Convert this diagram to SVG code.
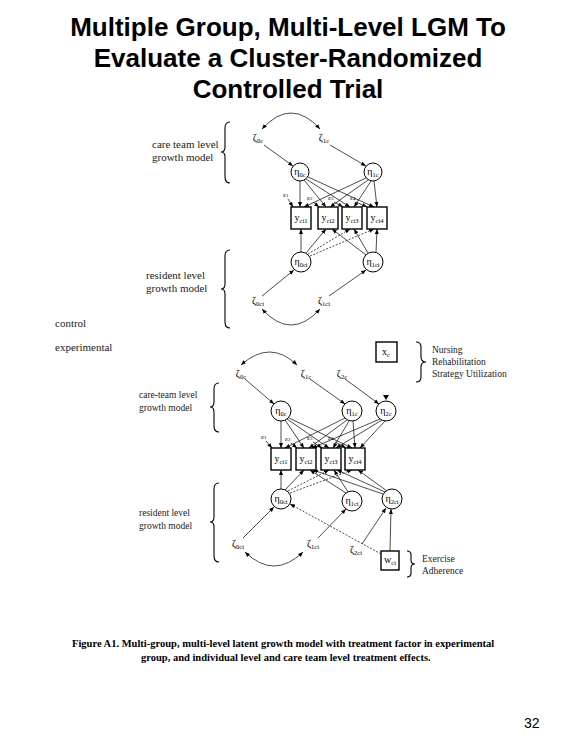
<svg xmlns="http://www.w3.org/2000/svg" width="576" height="756" viewBox="0 0 576 756">
<style>
.title{font-family:"Liberation Sans",Arial,sans-serif;font-weight:bold;font-size:26px;text-anchor:middle;fill:#000}
.lab{font-family:"Liberation Serif","Times New Roman",serif;font-size:9.5px;fill:#222}
.labt{font-family:"Liberation Serif","Times New Roman",serif;font-size:11px;fill:#222}
.nl{font-family:"Liberation Serif","Times New Roman",serif;font-size:10px;fill:#000;text-anchor:middle}
.sub{font-size:6.5px}
.eps{font-family:"Liberation Serif","Times New Roman",serif;font-size:7px;fill:#000}
.cap{font-family:"Liberation Serif","Times New Roman",serif;font-weight:bold;font-size:10.5px;fill:#000}
.node{fill:#fff;stroke:#000;stroke-width:1}
.box{fill:#fff;stroke:#000;stroke-width:1.4}
.brace{fill:none;stroke:#000;stroke-width:1.1}
.c line,.c path{stroke:#000;stroke-width:0.7;fill:none;marker-end:url(#ah)}
.c .d{stroke-dasharray:2 1.5}
.c .both{marker-start:url(#ah)}
.pg{font-family:"Liberation Sans",Arial,sans-serif;font-size:14px;fill:#000}
</style>
<defs>
<marker id="ah" viewBox="0 0 10 10" refX="10" refY="5" markerUnits="userSpaceOnUse" markerWidth="5" markerHeight="5" orient="auto-start-reverse">
<path d="M0,1 L10,5 L0,9 z" fill="#000"/>
</marker>
</defs>
<rect width="576" height="756" fill="#fff"/>
<g id="title">
<text class="title" x="288" y="36">Multiple Group, Multi-Level LGM To</text>
<text class="title" x="288" y="67">Evaluate a Cluster-Randomized</text>
<text class="title" x="288" y="98">Controlled Trial</text>
</g>

<!-- connectors -->
<g id="connectors" class="c">
<!-- control: care team -->
<path class="both" d="M262,129 Q291,97 320,129"/>
<line x1="264" y1="145" x2="293" y2="166"/>
<line x1="330" y1="145" x2="366" y2="166"/>
<line x1="300" y1="181" x2="300" y2="207"/>
<line x1="304" y1="180" x2="326" y2="207"/>
<line x1="306" y1="179" x2="350" y2="207"/>
<line x1="308" y1="177" x2="374" y2="207"/>
<line x1="366" y1="178" x2="304" y2="207"/>
<line x1="368" y1="180" x2="330" y2="207"/>
<line x1="371" y1="181" x2="354" y2="207"/>
<line x1="374" y1="181" x2="377" y2="207"/>
<line x1="288" y1="199" x2="293" y2="207"/>
<line x1="313" y1="202" x2="319" y2="207"/>
<line x1="334" y1="202" x2="343" y2="207"/>
<line x1="356" y1="202" x2="367" y2="207"/>
<!-- control: resident -->
<line x1="301" y1="252" x2="301" y2="229"/>
<line x1="306" y1="253" x2="326" y2="229"/>
<line class="d" x1="308" y1="254" x2="350" y2="229"/>
<line class="d" x1="310" y1="256" x2="374" y2="229"/>
<line x1="366" y1="255" x2="332" y2="229"/>
<line x1="368" y1="253" x2="354" y2="229"/>
<line x1="376" y1="252" x2="377" y2="229"/>
<line x1="262" y1="296" x2="294" y2="270"/>
<line x1="329" y1="296" x2="366" y2="270"/>
<path class="both" d="M262,309 Q291,341 320,309"/>
<!-- experimental: care team -->
<path class="both" d="M241,365 Q270,339 297,365"/>
<line x1="245" y1="379" x2="274" y2="404"/>
<line x1="310" y1="379" x2="345" y2="404"/>
<line x1="345" y1="379" x2="379" y2="404"/>
<line x1="281" y1="421" x2="281" y2="448"/>
<line x1="285" y1="420" x2="304" y2="448"/>
<line x1="287" y1="419" x2="329" y2="448"/>
<line x1="289" y1="418" x2="352" y2="448"/>
<line x1="345" y1="418" x2="285" y2="448"/>
<line x1="347" y1="420" x2="309" y2="448"/>
<line x1="349" y1="421" x2="333" y2="448"/>
<line x1="353" y1="421" x2="355" y2="448"/>
<line x1="380" y1="419" x2="312" y2="448"/>
<line x1="382" y1="420" x2="336" y2="448"/>
<line x1="385" y1="421" x2="360" y2="448"/>
<line x1="266" y1="441" x2="272" y2="448"/>
<line x1="291" y1="443" x2="297" y2="448"/>
<line x1="313" y1="442" x2="322" y2="448"/>
<line x1="335" y1="442" x2="346" y2="448"/>
<!-- experimental: resident -->
<line x1="281" y1="489" x2="281" y2="470"/>
<line x1="285" y1="490" x2="304" y2="470"/>
<line class="d" x1="288" y1="491" x2="329" y2="470"/>
<line class="d" x1="290" y1="493" x2="352" y2="470"/>
<line x1="346" y1="493" x2="310" y2="470"/>
<line x1="348" y1="492" x2="334" y2="470"/>
<line x1="383" y1="494" x2="313" y2="470"/>
<line x1="385" y1="492" x2="337" y2="470"/>
<line x1="387" y1="491" x2="358" y2="470"/>
<line x1="243" y1="538" x2="274" y2="507"/>
<line x1="318" y1="538" x2="346" y2="509"/>
<line x1="362" y1="544" x2="386" y2="508"/>
<line x1="390" y1="551" x2="391" y2="509"/>
<line class="d" x1="381" y1="554" x2="290" y2="504"/>
<path class="both" d="M245,552 Q274,580 303,552"/>
</g>
<polygon points="383,395 389,395 386,400" fill="#000"/>

<!-- braces and side labels -->
<g id="side-labels">
<path class="brace" d="M230,122 Q225,122 225,128 L225,147 Q225,152 221,152 Q225,152 225,157 L225,177 Q225,183 230,183"/>
<path class="brace" d="M230,250 Q225,250 225,256 L225,284 Q225,289 221,289 Q225,289 225,294 L225,322 Q225,328 230,328"/>
<path class="brace" d="M219,383 Q214,383 214,389 L214,402 Q214,407 210,407 Q214,407 214,412 L214,426 Q214,432 219,432"/>
<path class="brace" d="M219,483 Q214,483 214,489 L214,517 Q214,522 210,522 Q214,522 214,527 L214,556 Q214,562 219,562"/>
<path class="brace" d="M416,342 Q421,342 421,347 L421,357 Q421,362 426,362 Q421,362 421,367 L421,377 Q421,382 416,382"/>
<path class="brace" d="M407,551 Q411,551 411,555 L411,560 Q411,564 415,564 Q411,564 411,568 L411,573 Q411,577 407,577"/>
<text class="labt" x="152" y="148">care team level</text>
<text class="labt" x="152" y="161">growth model</text>
<text class="labt" x="146" y="279">resident level</text>
<text class="labt" x="146" y="292">growth model</text>
<text class="labt" x="55" y="327">control</text>
<text class="labt" x="55" y="351">experimental</text>
<text class="lab" x="139" y="398">care-team level</text>
<text class="lab" x="139" y="411">growth model</text>
<text class="lab" x="139" y="516">resident level</text>
<text class="lab" x="139" y="529">growth model</text>
<text class="lab" x="432" y="353">Nursing</text>
<text class="lab" x="432" y="365">Rehabilitation</text>
<text class="lab" x="432" y="377">Strategy Utilization</text>
<text class="lab" x="422" y="562">Exercise</text>
<text class="lab" x="422" y="574">Adherence</text>
</g>

<!-- control nodes -->
<g id="c-zeta0c"><text class="nl" x="258" y="141">ζ<tspan class="sub" dy="2">0c</tspan></text></g>
<g id="c-zeta1c"><text class="nl" x="324" y="141">ζ<tspan class="sub" dy="2">1c</tspan></text></g>
<g id="c-eta0c"><circle class="node" cx="300" cy="172" r="9"/><text class="nl" x="300" y="175">η<tspan class="sub" dy="1.5">0c</tspan></text></g>
<g id="c-eta1c"><circle class="node" cx="373" cy="172" r="9"/><text class="nl" x="373" y="175">η<tspan class="sub" dy="1.5">1c</tspan></text></g>
<g id="c-eps"><text class="eps" x="283" y="197">ε<tspan font-size="5">1</tspan></text><text class="eps" x="307" y="200">ε<tspan font-size="5">2</tspan></text><text class="eps" x="328" y="200">ε<tspan font-size="5">3</tspan></text><text class="eps" x="350" y="200">ε<tspan font-size="5">4</tspan></text></g>
<g id="c-y1"><rect class="box" x="291" y="207" width="20" height="22"/><text class="nl" x="301" y="221">y<tspan class="sub" dy="1.5">ci1</tspan></text></g>
<g id="c-y2"><rect class="box" x="318" y="207" width="20" height="22"/><text class="nl" x="328" y="221">y<tspan class="sub" dy="1.5">ci2</tspan></text></g>
<g id="c-y3"><rect class="box" x="342" y="207" width="20" height="22"/><text class="nl" x="352" y="221">y<tspan class="sub" dy="1.5">ci3</tspan></text></g>
<g id="c-y4"><rect class="box" x="367" y="207" width="20" height="22"/><text class="nl" x="377" y="221">y<tspan class="sub" dy="1.5">ci4</tspan></text></g>
<g id="c-eta0ci"><circle class="node" cx="301" cy="262" r="10"/><text class="nl" x="301" y="265">η<tspan class="sub" dy="1.5">0ci</tspan></text></g>
<g id="c-eta1ci"><circle class="node" cx="373" cy="262" r="10"/><text class="nl" x="373" y="265">η<tspan class="sub" dy="1.5">1ci</tspan></text></g>
<g id="c-zeta0ci"><text class="nl" x="258" y="304">ζ<tspan class="sub" dy="2">0ci</tspan></text></g>
<g id="c-zeta1ci"><text class="nl" x="324" y="304">ζ<tspan class="sub" dy="2">1ci</tspan></text></g>

<!-- experimental nodes -->
<g id="e-xc"><rect class="box" x="376" y="342" width="21" height="20"/><text class="nl" x="386" y="355">x<tspan class="sub" dy="1.5">c</tspan></text></g>
<g id="e-zeta0c"><text class="nl" x="241" y="377">ζ<tspan class="sub" dy="2">0c</tspan></text></g>
<g id="e-zeta1c"><text class="nl" x="306" y="377">ζ<tspan class="sub" dy="2">1c</tspan></text></g>
<g id="e-zeta2c"><text class="nl" x="342" y="377">ζ<tspan class="sub" dy="2">2c</tspan></text></g>
<g id="e-eta0c"><circle class="node" cx="281" cy="411" r="10"/><text class="nl" x="281" y="414">η<tspan class="sub" dy="1.5">0c</tspan></text></g>
<g id="e-eta1c"><circle class="node" cx="352" cy="411" r="10"/><text class="nl" x="352" y="414">η<tspan class="sub" dy="1.5">1c</tspan></text></g>
<g id="e-eta2c"><circle class="node" cx="386" cy="411" r="10"/><text class="nl" x="386" y="414">η<tspan class="sub" dy="1.5">2c</tspan></text></g>
<g id="e-eps"><text class="eps" x="261" y="439">ε<tspan font-size="5">1</tspan></text><text class="eps" x="285" y="441">ε<tspan font-size="5">2</tspan></text><text class="eps" x="307" y="440">ε<tspan font-size="5">3</tspan></text><text class="eps" x="328" y="440">ε<tspan font-size="5">4</tspan></text></g>
<g id="e-y1"><rect class="box" x="271" y="448" width="20" height="22"/><text class="nl" x="281" y="462">y<tspan class="sub" dy="1.5">ci1</tspan></text></g>
<g id="e-y2"><rect class="box" x="296" y="448" width="20" height="22"/><text class="nl" x="306" y="462">y<tspan class="sub" dy="1.5">ci2</tspan></text></g>
<g id="e-y3"><rect class="box" x="321" y="448" width="20" height="22"/><text class="nl" x="331" y="462">y<tspan class="sub" dy="1.5">ci3</tspan></text></g>
<g id="e-y4"><rect class="box" x="345" y="448" width="20" height="22"/><text class="nl" x="355" y="462">y<tspan class="sub" dy="1.5">ci4</tspan></text></g>
<g id="e-eta0ci"><circle class="node" cx="281" cy="499" r="10"/><text class="nl" x="281" y="502">η<tspan class="sub" dy="1.5">0ci</tspan></text></g>
<g id="e-eta1ci"><circle class="node" cx="352" cy="501" r="10"/><text class="nl" x="352" y="504">η<tspan class="sub" dy="1.5">1ci</tspan></text></g>
<g id="e-eta2ci"><circle class="node" cx="392" cy="499" r="10"/><text class="nl" x="392" y="502">η<tspan class="sub" dy="1.5">2ci</tspan></text></g>
<g id="e-zeta0ci"><text class="nl" x="238" y="547">ζ<tspan class="sub" dy="2">0ci</tspan></text></g>
<g id="e-zeta1ci"><text class="nl" x="313" y="547">ζ<tspan class="sub" dy="2">1ci</tspan></text></g>
<g id="e-zeta2ci"><text class="nl" x="356" y="553">ζ<tspan class="sub" dy="2">2ci</tspan></text></g>
<g id="e-wci"><rect class="box" x="381" y="551" width="18" height="19"/><text class="nl" x="390" y="563">w<tspan class="sub" dy="1.5">ci</tspan></text></g>

<g id="caption">
<text class="cap" x="72" y="647">Figure A1.  Multi-group, multi-level  latent  growth model with treatment factor in experimental</text>
<text class="cap" x="141" y="661">group, and individual level and care team level treatment effects.</text>
</g>
<text class="pg" x="524" y="728">32</text>
</svg>
